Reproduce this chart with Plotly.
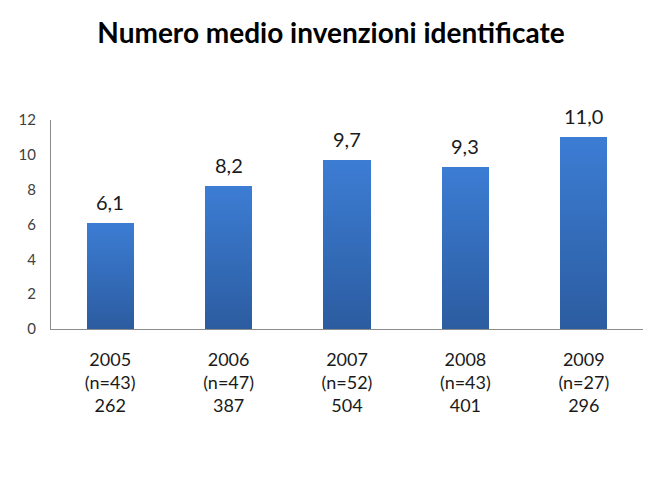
import plotly.graph_objects as go

years = ["2005", "2006", "2007", "2008", "2009"]
n_resp = ["(n=43)", "(n=47)", "(n=52)", "(n=43)", "(n=27)"]
totals = ["262", "387", "504", "401", "296"]
means = [6.1, 8.2, 9.7, 9.3, 11.0]
y_ticks = [0, 2, 4, 6, 8, 10, 12]

FONT = "Lato"
top_rgb = (60, 125, 212)
bot_rgb = (44, 92, 160)
N = 30

cats = years
fig = go.Figure()
# Gradient bars: each bar split into N stacked slices of its own value
for i in range(N):
    t = (i + 0.5) / N  # 0 bottom -> 1 top
    c = tuple(round(b + (tp - b) * t) for b, tp in zip(bot_rgb, top_rgb))
    fig.add_trace(go.Bar(
        x=cats, y=[v / N for v in means],
        marker=dict(color="rgb(%d,%d,%d)" % c, line=dict(width=0)),
        width=0.4, showlegend=False, hoverinfo="skip",
    ))

for idx, v in enumerate(means):
    fig.add_annotation(
        x=idx, y=v, xref="x", yref="y",
        text=("%.1f" % v).replace(".", ","),
        showarrow=False, yanchor="bottom", yshift=7,
        font=dict(family=FONT, size=20, color="#1a1a1a"),
    )

fig.update_layout(
    width=662, height=481,
    barmode="stack", bargap=0,
    paper_bgcolor="white", plot_bgcolor="white",
    margin=dict(l=51, r=19, t=120, b=152, autoexpand=False),
    title=dict(text="<b>Numero medio invenzioni identificate</b>",
               x=0.5, xanchor="center", y=1 - 33 / 481, yanchor="middle",
               yref="container",
               font=dict(family=FONT, size=28, color="black")),
    font=dict(family=FONT),
)
fig.update_xaxes(
    type="category", range=[-0.5, 4.5],
    tickmode="array", tickvals=cats,
    ticktext=["%s<br>%s<br>%s" % (a, b, c) for a, b, c in zip(years, n_resp, totals)],
    tickfont=dict(family=FONT, size=18, color="#1a1a1a"),
    showline=True, linecolor="#8c8c8c", linewidth=1,
    ticks="", showgrid=False, zeroline=False,
    ticklabelstandoff=14, automargin=False,
)
fig.update_yaxes(
    range=[0, 12], tickvals=y_ticks,
    tickfont=dict(family=FONT, size=15, color="#404040"),
    showline=True, linecolor="#8c8c8c", linewidth=1,
    ticks="", showgrid=False, zeroline=False,
    ticklabelstandoff=11, automargin=False,
)

fig.write_html("out.html", config={"displayModeBar": False},
               post_script="document.body.style.margin='0';")
